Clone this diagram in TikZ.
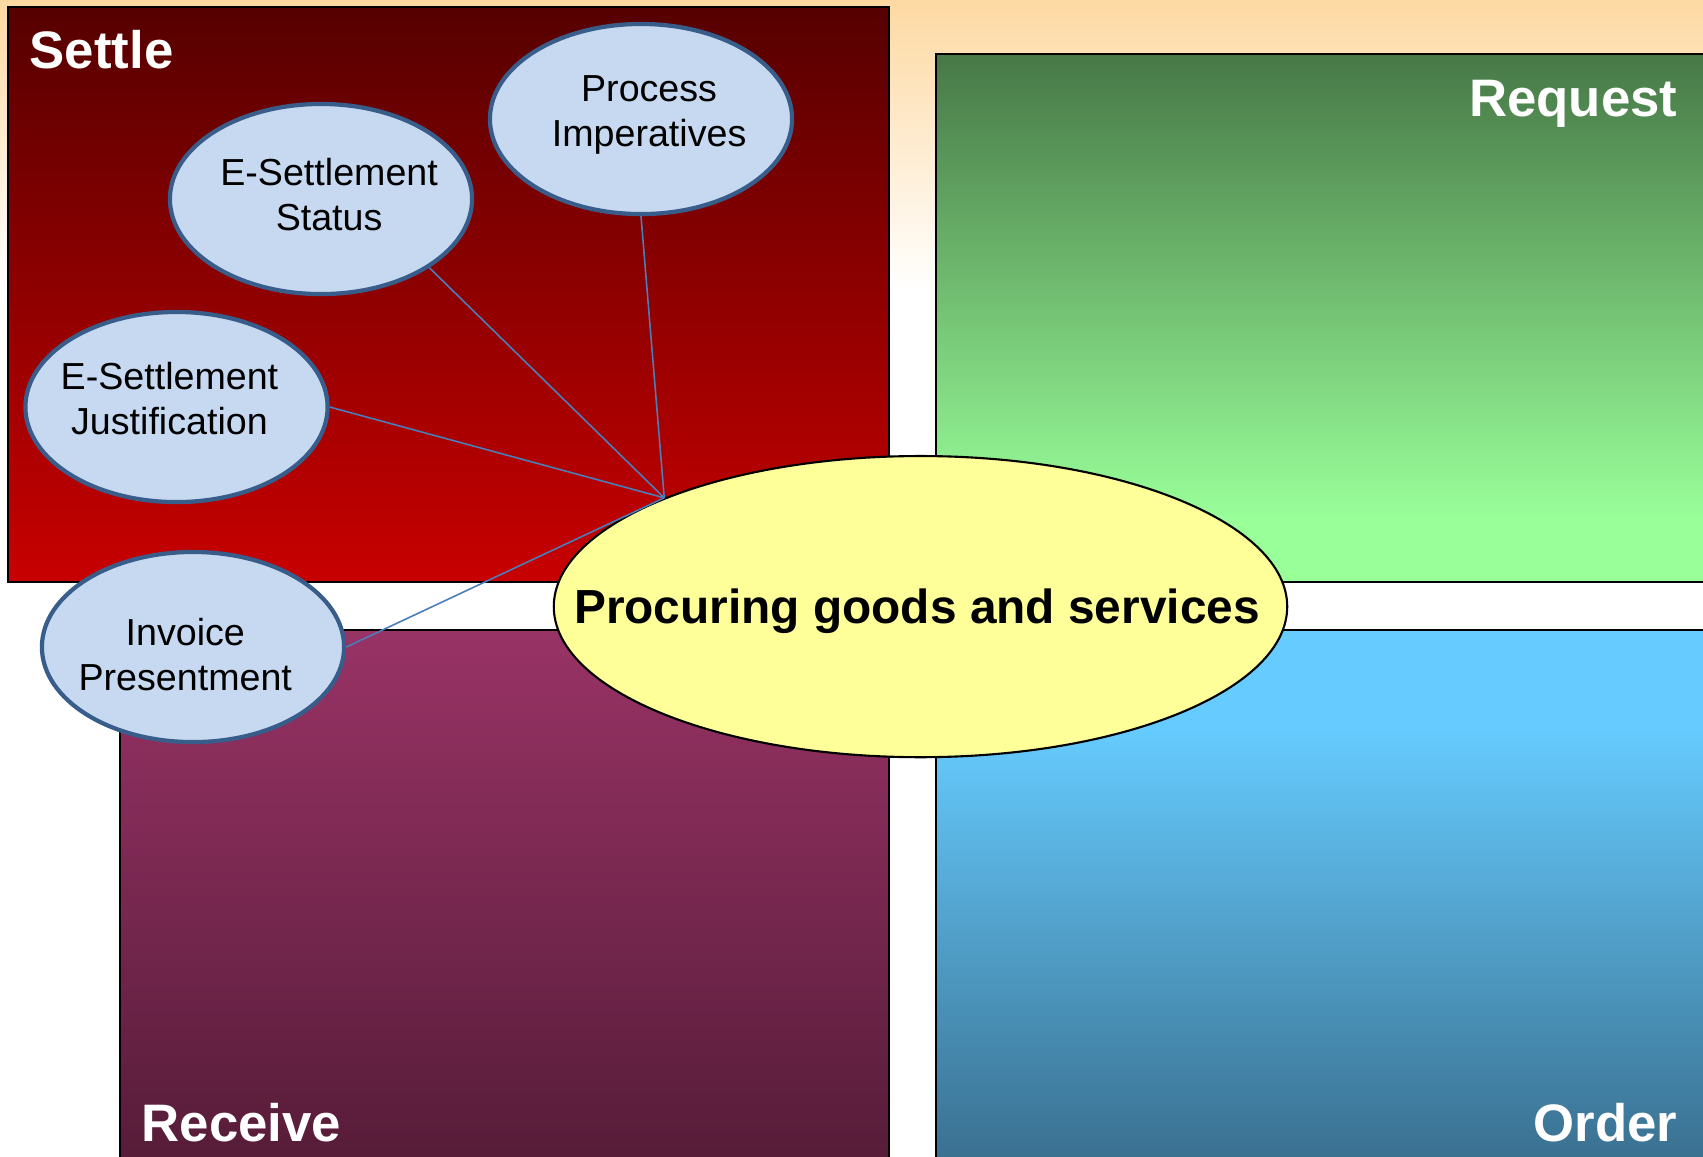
\documentclass[tikz,border=0pt]{standalone}
\usepackage{fontspec}
\setmainfont{Liberation Sans}
\usetikzlibrary{shapes.geometric}

\definecolor{bgorange}{HTML}{FDD9A2}
\definecolor{settletop}{HTML}{560000}
\definecolor{settlebot}{HTML}{C80000}
\definecolor{reqdark}{HTML}{477847}
\definecolor{reqlight}{HTML}{99FF99}
\definecolor{rectop}{HTML}{993366}
\definecolor{recbot}{HTML}{561C38}
\definecolor{ordtop}{HTML}{66CCFF}
\definecolor{ordbot}{HTML}{3A7090}
\definecolor{bubblefill}{HTML}{C6D9F1}
\definecolor{bubbleline}{HTML}{385D8A}
\definecolor{linkblue}{HTML}{4A7EBB}
\definecolor{corefill}{HTML}{FFFF99}

\pgfdeclareverticalshading{requestshade}{100bp}{color(0bp)=(reqlight); color(31bp)=(reqlight); color(75bp)=(reqdark); color(100bp)=(reqdark)}
\pgfdeclareverticalshading{ordershade}{100bp}{color(0bp)=(ordbot); color(25bp)=(ordbot); color(66bp)=(ordtop); color(100bp)=(ordtop)}

\begin{document}
\begin{tikzpicture}[x=0.01cm, y=-0.01cm,
    quadlabel/.style={text=white, inner sep=0pt, font=\fontsize{15}{18}\selectfont\bfseries},
    bubble/.style={ellipse, draw=bubbleline, line width=1.2pt, fill=bubblefill,
        minimum width=3.02cm, minimum height=1.9cm, inner sep=0pt},
    bubbletext/.style={align=center, inner sep=0pt, font=\fontsize{10.7}{12.8}\selectfont},
    link/.style={draw=linkblue, line width=0.45pt}]
    \useasboundingbox (0,0) rectangle (1703,1156);
    \clip (0,0) rectangle (1703,1156);
    % background
    \fill [white] (0,0) rectangle (1703,1156);
    \shade [top color=bgorange, bottom color=white] (0,0) rectangle (1703,290);
    % quadrants
    \shade [top color=settletop, bottom color=settlebot] (8,7) rectangle (889,582);
    \draw [line width=0.6pt] (8,7) rectangle (889,582);
    \shade [shading=requestshade] (936,54) rectangle (1710,582);
    \draw [line width=0.6pt] (936,54) rectangle (1710,582);
    \shade [top color=rectop, bottom color=recbot] (120,630) rectangle (889,1160);
    \draw [line width=0.6pt] (120,630) rectangle (889,1160);
    \shade [shading=ordershade] (936,630) rectangle (1710,1160);
    \draw [line width=0.6pt] (936,630) rectangle (1710,1160);
    \node (settle) at (29,68) [quadlabel, anchor=base west] {Settle};
    \node (request) at (1678,116) [quadlabel, anchor=base east] {Request};
    \node (receive) at (141,1141) [quadlabel, anchor=base west] {Receive};
    \node (order) at (1678,1141) [quadlabel, anchor=base east] {Order};
    % ellipses
    \node (core) at (920.5,606.6) [ellipse, draw, line width=0.6pt, fill=corefill,
        minimum width=7.33cm, minimum height=3.01cm, inner sep=0pt,
        label={[inner sep=0pt, xshift=-1pt, yshift=-1.2pt, font=\fontsize{13.6}{16}\selectfont\bfseries]center:Procuring goods and services}] {};
    \node (proc) at (641,119) [bubble, label={[bubbletext, xshift=2.3pt, yshift=1.1pt]center:Process\\Imperatives}] {};
    \node (stat) at (321,199) [bubble, label={[bubbletext, xshift=2.3pt, yshift=1.4pt]center:E-Settlement\\Status}] {};
    \node (just) at (176.5,407) [bubble, label={[bubbletext, xshift=-2pt, yshift=2.3pt]center:E-Settlement\\Justification}] {};
    \node (inv) at (193,647) [bubble, label={[bubbletext, xshift=-2.2pt, yshift=-2.2pt]center:Invoice\\Presentment}] {};
    \draw [link] (proc.south) -- (core.157.5);
    \draw [link] (stat.south east) -- (core.157.5);
    \draw [link] (just.east) -- (core.157.5);
    \draw [link] (inv.east) -- (core.157.5);
\end{tikzpicture}
\end{document}
